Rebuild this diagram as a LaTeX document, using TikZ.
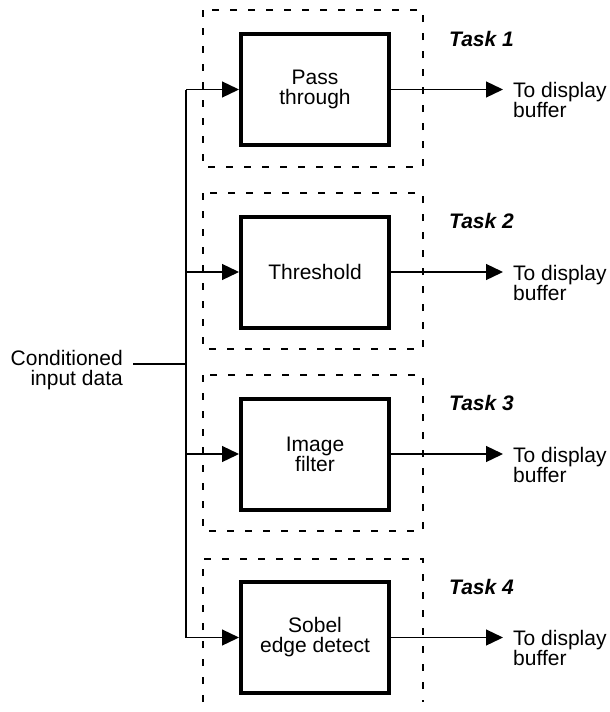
\documentclass[tikz,border=0pt]{standalone}
\usepackage{fontspec}
\setmainfont{Liberation Sans}
\usetikzlibrary{arrows.meta}
\begin{document}
\begin{tikzpicture}[x=1pt,y=-1pt,
  taskbox/.style={draw,line width=4pt,minimum width=148pt,minimum height=111pt,align=center,inner sep=0pt,font=\fontsize{21}{20}\selectfont},
  lbl/.style={inner sep=0pt,font=\fontsize{21}{20}\selectfont},
  tasklbl/.style={inner sep=0pt,anchor=west,font=\fontsize{21}{20}\selectfont\bfseries\itshape},
  conn/.style={line width=1.3pt},
  arr/.style={conn,-{Triangle[length=17pt,width=16pt]}},
  dashbox/.style={line width=1.3pt,dash pattern=on 7pt off 11pt}]
\useasboundingbox (0,0) rectangle (610,712);

% dashed task frames
\draw[dashbox] (203,10) rectangle (423,167);
\draw[dashbox] (203,193) rectangle (423,349);
\draw[dashbox] (203,375) rectangle (423,531);
\draw[dashbox] (203,702) -- (203,559) -- (423,559) -- (423,702);

% processing boxes
\node[taskbox] (b1) at (315,89.5) {Pass\\through};
\node[taskbox] (b2) at (315,272) {Threshold};
\node[taskbox] (b3) at (315,454) {Image\\filter};
\node[taskbox] (b4) at (315,637.5) {Sobel\\edge detect};

% task labels
\node[tasklbl] (t1) at (449,38.5) {Task 1};
\node[tasklbl] (t2) at (449,220.5) {Task 2};
\node[tasklbl] (t3) at (449,403) {Task 3};
\node[tasklbl] (t4) at (449,586.5) {Task 4};

% output labels
\node[lbl,anchor=north west,align=left] (o1) at (513,82.5) {To display\\buffer};
\node[lbl,anchor=north west,align=left] (o2) at (513,265) {To display\\buffer};
\node[lbl,anchor=north west,align=left] (o3) at (513,447) {To display\\buffer};
\node[lbl,anchor=north west,align=left] (o4) at (513,630.5) {To display\\buffer};
\coordinate (e1) at (503,89.5);
\coordinate (e2) at (503,272);
\coordinate (e3) at (503,454);
\coordinate (e4) at (503,637.5);

% input label
\node[lbl,anchor=north east,align=right] (in) at (123,350) {Conditioned\\input data};
\coordinate (c0) at (133,364);
\coordinate (j0) at (186,364);
\coordinate (j1) at (186,89.5);
\coordinate (j2) at (186,272);
\coordinate (j3) at (186,454);
\coordinate (j4) at (186,637.5);

% connectors
\draw[conn] (c0) -- (j0);
\draw[conn] (j1) -- (j4);
\draw[arr] (j1) -- (b1.west);
\draw[arr] (j2) -- (b2.west);
\draw[arr] (j3) -- (b3.west);
\draw[arr] (j4) -- (b4.west);
\draw[arr] (b1.east) -- (e1);
\draw[arr] (b2.east) -- (e2);
\draw[arr] (b3.east) -- (e3);
\draw[arr] (b4.east) -- (e4);
\end{tikzpicture}
\end{document}
